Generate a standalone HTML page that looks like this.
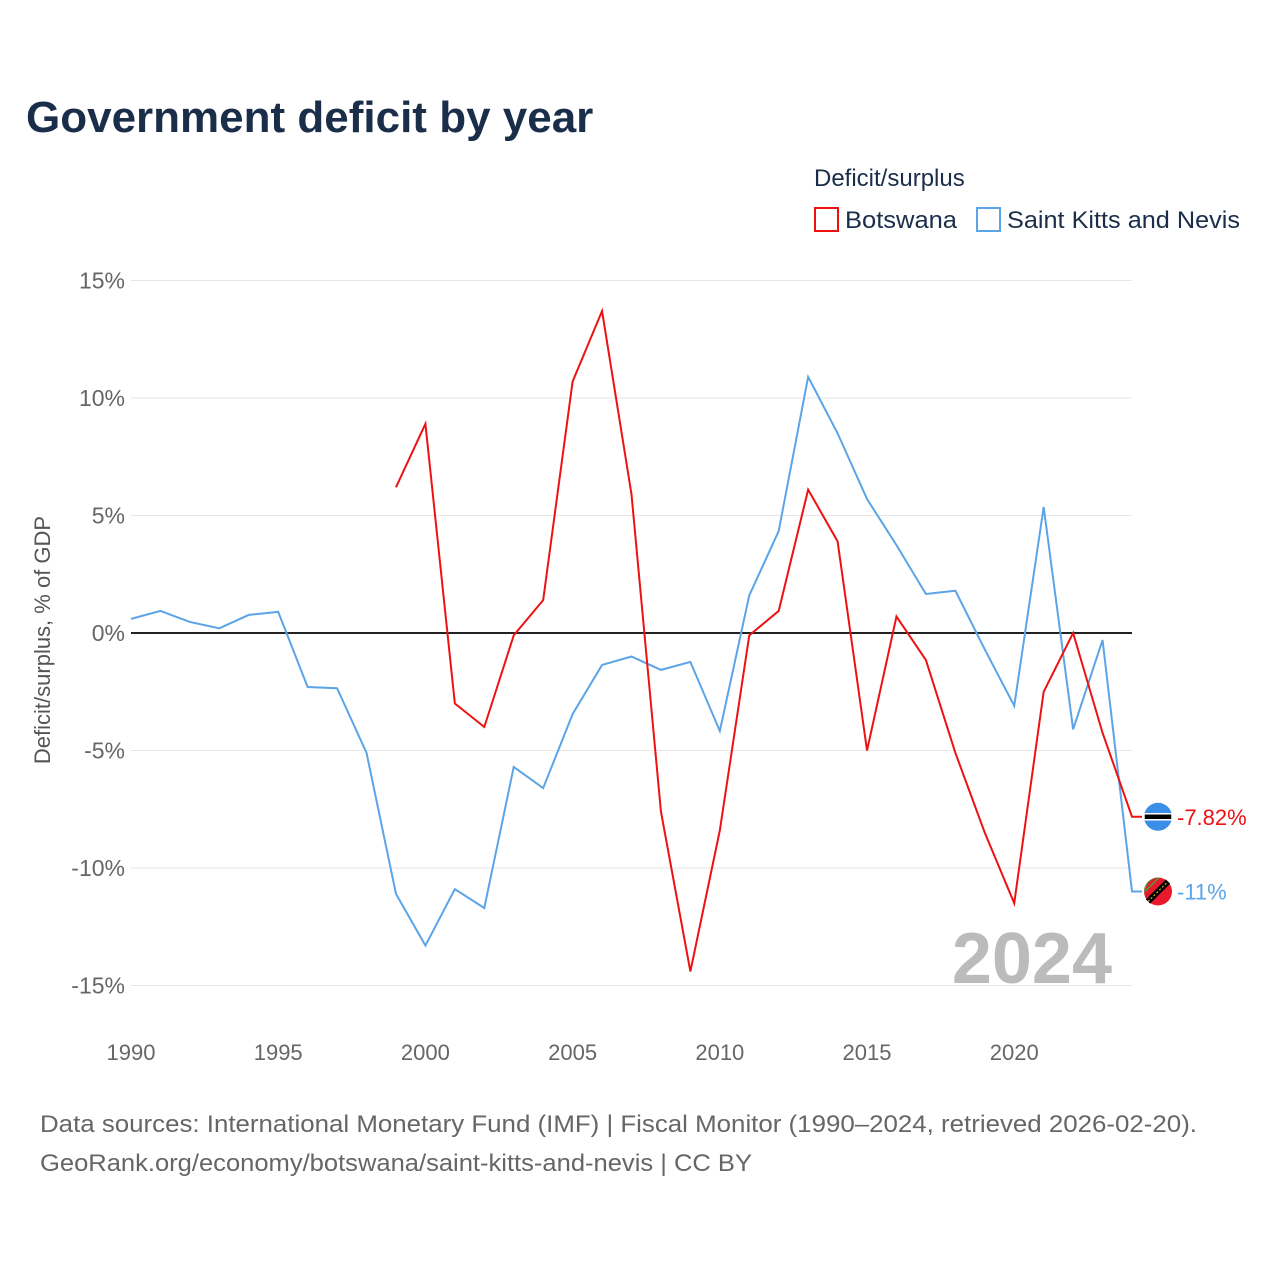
<!DOCTYPE html>
<html><head><meta charset="utf-8"><style>
body{margin:0;background:#fff;font-family:"Liberation Sans",sans-serif}
svg text{font-family:"Liberation Sans",sans-serif}
</style></head><body>
<svg width="1280" height="1280" id="chart">
<text x="26" y="132" font-size="44" font-weight="bold" fill="#1a2e4a">Government deficit by year</text>
<text x="814" y="186" font-size="24" fill="#1a2e4a">Deficit/surplus</text>
<g><rect x="815" y="208" width="23" height="23" fill="none" stroke="#ee1111" stroke-width="2"/><text x="845" y="228" font-size="24" fill="#1a2e4a" textLength="112" lengthAdjust="spacingAndGlyphs">Botswana</text></g>
<g><rect x="977" y="208" width="23" height="23" fill="none" stroke="#5ba4e8" stroke-width="2"/><text x="1007" y="228" font-size="24" fill="#1a2e4a" textLength="233" lengthAdjust="spacingAndGlyphs">Saint Kitts and Nevis</text></g>
<text transform="translate(50,640) rotate(-90)" text-anchor="middle" font-size="22" fill="#555">Deficit/surplus, % of GDP</text>
<text x="1112" y="983" text-anchor="end" font-size="72" font-weight="bold" fill="#bbb">2024</text>
<text x="40" y="1132" font-size="24" fill="#666" textLength="1157" lengthAdjust="spacingAndGlyphs">Data sources: International Monetary Fund (IMF) | Fiscal Monitor (1990–2024, retrieved 2026-02-20).</text>
<text x="40" y="1171" font-size="24" fill="#666" textLength="712" lengthAdjust="spacingAndGlyphs">GeoRank.org/economy/botswana/saint-kitts-and-nevis | CC BY</text>
<g id="plot"></g>
</svg>
<script>
const years=[];for(let y=1990;y<=2024;y++)years.push(y);
const yTicks=[15,10,5,0,-5,-10,-15];
const xTicks=[1990,1995,2000,2005,2010,2015,2020];
const skn=[0.6,0.94,0.47,0.2,0.77,0.9,-2.3,-2.35,-5.1,-11.1,-13.3,-10.9,-11.7,-5.7,-6.6,-3.45,-1.36,-1.0,-1.57,-1.23,-4.17,1.6,4.34,10.9,8.5,5.7,3.74,1.66,1.8,-0.7,-3.1,5.36,-4.1,-0.3,-11];
const bwa=[null,null,null,null,null,null,null,null,null,6.2,8.9,-3.0,-4.0,-0.1,1.4,10.7,13.7,5.9,-7.6,-14.4,-8.4,-0.1,0.94,6.1,3.9,-5.0,0.7,-1.15,-5.1,-8.5,-11.5,-2.5,0,-4.25,-7.82];
const NS="http://www.w3.org/2000/svg";
const X=y=>131+(y-1990)*(1132-131)/34;
const Y=v=>633-v*23.5;
const g=document.getElementById('plot');
function el(t,a){const e=document.createElementNS(NS,t);for(const k in a)e.setAttribute(k,a[k]);g.appendChild(e);return e;}
yTicks.forEach(v=>{
 const l=el('line',{x1:131,x2:1132,y1:Y(v),y2:Y(v),stroke:v===0?'#222':'#e6e6e6','stroke-width':v===0?2:1});
 
 
 const t=el('text',{x:125,y:Y(v)+8,'text-anchor':'end','font-size':23,fill:'#666'});
 t.textContent=v+'%';
 
 
});
xTicks.forEach(v=>{
 const t=el('text',{x:X(v),y:1060,'text-anchor':'middle','font-size':22,fill:'#666'});
 t.textContent=v;
 
 
});
function line(data,color,name){
 let d='';data.forEach((v,i)=>{if(v===null)return;d+=(d?'L':'M')+X(years[i])+','+Y(v);});
 const last=data[data.length-1];
 d+='L1142,'+Y(last);
 const p=el('path',{d:d,fill:'none',stroke:color,'stroke-width':2});
 
 
}
line(skn,'#5ba4e8','saint-kitts');
line(bwa,'#ee1111','botswana');
const bl=bwa[bwa.length-1], sl=skn[skn.length-1];
const c1=el('circle',{cx:1158,cy:Y(bl),r:14,fill:'#3a8ee8'});


el('rect',{x:1144,y:Y(bl)-3,width:28,height:6,fill:'#000',stroke:'#fff','stroke-width':1.5});
const c2=el('circle',{cx:1158,cy:Y(sl),r:14,fill:'#e8192c'});


el('path',{d:`M1144,${Y(sl)} A14,14 0 0 1 1158,${Y(sl)-14} L1144,${Y(sl)}Z M1144,${Y(sl)+2} L1160,${Y(sl)-14} A14,14 0 0 0 1146,${Y(sl)-4}Z`,fill:'#4aa03c'});
el('line',{x1:1148,y1:Y(sl)+10,x2:1168,y2:Y(sl)-10,stroke:'#000','stroke-width':6});
el('line',{x1:1148,y1:Y(sl)+10,x2:1168,y2:Y(sl)-10,stroke:'#fcd116','stroke-width':1,'stroke-dasharray':'2 2'});
const t1=el('text',{x:1177,y:Y(bl)+8,'font-size':22,fill:'#ee1111'});t1.textContent=bl+'%';


const t2=el('text',{x:1177,y:Y(sl)+8,'font-size':22,fill:'#5ba4e8'});t2.textContent=sl+'%';


</script>
</body></html>
